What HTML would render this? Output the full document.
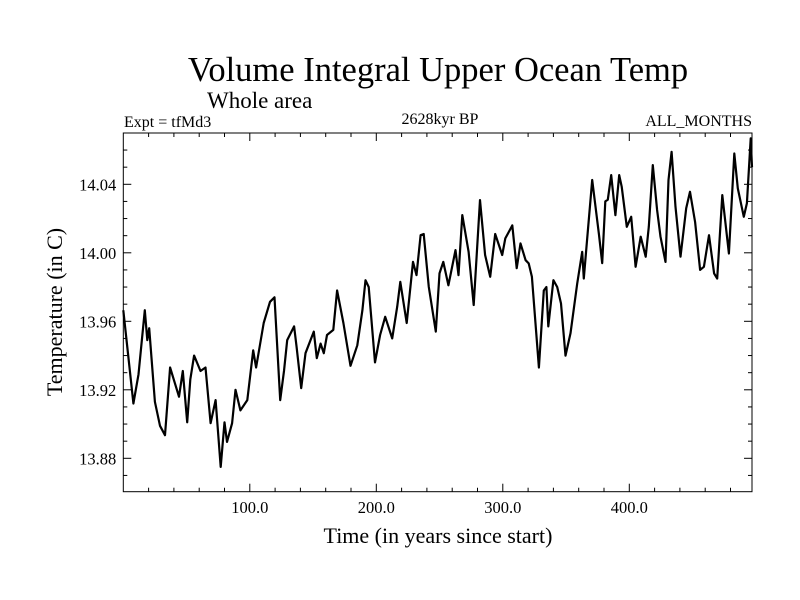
<!DOCTYPE html>
<html><head><meta charset="utf-8"><style>
body{margin:0;background:#fff;}
svg{display:block;font-family:"Liberation Serif",serif;}
</style></head><body>
<svg id="chart" width="800" height="600" xmlns="http://www.w3.org/2000/svg">
<text x="438" y="81" font-size="34.5" text-anchor="middle">Volume Integral Upper Ocean Temp</text>
<text x="207" y="108" font-size="23">Whole area</text>
<text x="124" y="127" font-size="16">Expt = tfMd3</text>
<text x="440" y="124" font-size="16" text-anchor="middle">2628kyr BP</text>
<text x="752" y="126" font-size="16" text-anchor="end">ALL_MONTHS</text>
<text x="438" y="543" font-size="22" text-anchor="middle">Time (in years since start)</text>
<text transform="translate(62,312) rotate(-90)" font-size="22" text-anchor="middle">Temperature (in C)</text>
<g id="axes"></g>
<path id="series" fill="none" stroke="#000" stroke-width="2.2" stroke-linejoin="round"/>
<rect x="123.3" y="133" width="628.7" height="358.7" fill="none" stroke="#000" stroke-width="1"/>
</svg>
<script>
const years=[0,4,8,12,17,19,20.5,25,29,33,37,44,47,50.5,53,56,61,65,69,73,77,80,82,86,88.7,92.6,98,102.7,105,111,116,119.5,124,127,129.6,135,137,140.6,144,150.6,153,156,158.5,161,166,169,174,179.6,185,189,191.5,194,199,203,207,212.6,216.5,219,224,229,231.8,235,237.5,241.5,247,250,253,257,262.6,265,268,273,277,282,286,290,294,299.5,302,307.5,311,314,318,320.5,323,328.5,332.4,334.5,336,340,343,346,349.6,353.5,358.8,362.8,364,366.7,370.7,376,378.6,381,383,385.7,389,392,394,398,401.5,405,409,413,415.4,418.6,422,424.7,428.6,431,433.4,436.5,440.5,445,448,452,456,459,463,467,469.5,473.5,478.7,483,485.8,490.5,493,496,497];
const temps=[13.9665,13.939,13.912,13.929,13.9665,13.949,13.956,13.913,13.899,13.8935,13.933,13.916,13.931,13.901,13.926,13.940,13.931,13.933,13.9005,13.914,13.875,13.901,13.8896,13.9005,13.920,13.908,13.914,13.943,13.933,13.959,13.9714,13.974,13.914,13.931,13.949,13.957,13.945,13.921,13.9414,13.954,13.9385,13.947,13.9414,13.952,13.955,13.978,13.959,13.934,13.946,13.9665,13.984,13.980,13.936,13.952,13.9626,13.950,13.9685,13.983,13.959,13.9947,13.987,14.0103,14.011,13.980,13.954,13.988,13.9947,13.981,14.0016,13.987,14.022,14.0006,13.9695,14.0308,13.9987,13.986,14.011,13.9987,14.0084,14.016,13.991,14.0055,13.9957,13.9938,13.986,13.933,13.978,13.980,13.957,13.984,13.980,13.9704,13.940,13.953,13.982,14.0006,13.985,14.0084,14.0425,14.011,13.994,14.030,14.031,14.0454,14.022,14.0454,14.0386,14.0152,14.021,13.9918,14.0094,13.9977,14.0152,14.0512,14.025,14.0094,13.9947,14.0425,14.059,14.0268,13.9977,14.026,14.0356,14.018,13.99,13.9918,14.0103,13.988,13.985,14.0337,13.9996,14.058,14.0376,14.021,14.0289,14.0668,14.050];
const xTickLabels=["100.0","200.0","300.0","400.0"];
const yTickLabels=["13.88","13.92","13.96","14.00","14.04"];
const L=123.3,R=752,T=133,B=491.7;
const xMin=0,xMax=(R-L)/1.265;
const yMin=13.88-(B-458.3)/68.5*0.04, yMax=14.04+(184.3-T)/68.5*0.04;
function sx(v){return L+(v-xMin)/(xMax-xMin)*(R-L);}
function sy(v){return B-(v-yMin)/(yMax-yMin)*(B-T);}
const NS="http://www.w3.org/2000/svg";
const ax=document.getElementById('axes');
function line(x1,y1,x2,y2){const l=document.createElementNS(NS,'line');l.setAttribute('x1',x1);l.setAttribute('y1',y1);l.setAttribute('x2',x2);l.setAttribute('y2',y2);l.setAttribute('stroke','#000');l.setAttribute('stroke-width','1');


ax.appendChild(l);}
function text(x,y,s,anchor){const t=document.createElementNS(NS,'text');t.setAttribute('x',x);t.setAttribute('y',y);t.setAttribute('font-size','16.5');t.setAttribute('text-anchor',anchor);t.textContent=s;


ax.appendChild(t);}
for(let v=20;v<xMax;v+=20){const x=sx(v);const maj=v%100===0;const len=maj?8:4;line(x,B,x,B-len);line(x,T,x,T+len);}
xTickLabels.forEach(s=>{text(sx(parseFloat(s)),513,s,'middle');});
for(let k=0;k<=21;k++){const v=13.86+k*0.01;if(v<yMin-1e-9||v>yMax+1e-9)continue;const y=sy(v);const maj=Math.abs((v-13.88)/0.04-Math.round((v-13.88)/0.04))<1e-6;const len=maj?8:4;line(L,y,L+len,y);line(R,y,R-len,y);}
yTickLabels.forEach(s=>{text(L-7,sy(parseFloat(s))+6,s,'end');});
let d='';years.forEach((y,i)=>{d+=(i?'L':'M')+sx(y).toFixed(1)+','+sy(temps[i]).toFixed(1);});
document.getElementById('series').setAttribute('d',d);
</script>
</body></html>
